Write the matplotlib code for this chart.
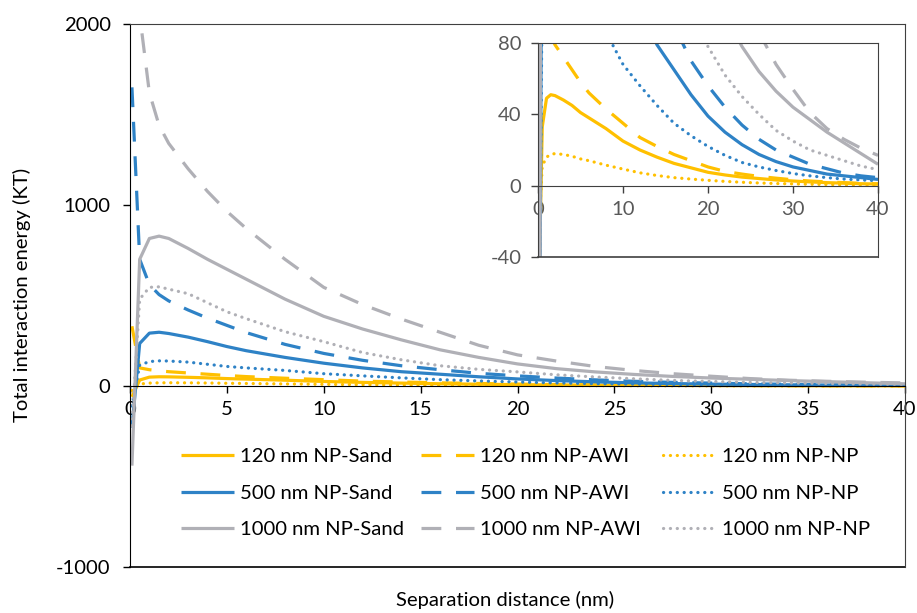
import matplotlib
matplotlib.use('Agg')
import matplotlib.pyplot as plt

plt.rcParams['font.family'] = ['Lato', 'DejaVu Sans']
plt.rcParams['axes.unicode_minus'] = False

# ---------------- data ----------------
x_nm = [0.1, 0.5, 1, 1.5, 2, 3, 4, 5, 6, 8, 10, 12, 14, 16, 18, 20,
        22, 24, 26, 28, 30, 32, 34, 36, 38, 40]

np120_sand = [-60, 33, 49, 51, 50.5, 48, 45, 41, 38, 32, 25, 20, 16, 12.5, 10, 7.5,
              6, 4.8, 4, 3.2, 2.6, 2.1, 1.7, 1.4, 1.1, 0.9]
np120_awi = [330, 100, 90, 84, 79, 72, 65, 58, 52, 43, 35, 27, 22, 17.5, 14, 10.5,
             8, 6.5, 5.2, 4.2, 3.3, 2.6, 2.1, 1.7, 1.3, 1.0]
np120_np = [-25, 11, 16, 17.5, 18, 17.5, 16.5, 15, 14, 11.5, 9.3, 7.2, 5.7, 4.5, 3.7, 3,
            2.4, 1.9, 1.5, 1.2, 1, 0.8, 0.65, 0.5, 0.4, 0.35]
np500_sand = [-230, 235, 292, 297, 290, 270, 245, 218, 195, 158, 126, 100, 79, 65, 51, 39,
              30, 23, 17.5, 13.5, 10.5, 8.5, 6.5, 5.5, 4.5, 3.5]
np500_awi = [1650, 700, 560, 505, 470, 420, 375, 335, 295, 230, 180, 142, 112, 90, 70, 56,
             44, 34, 26, 20, 16, 12, 9.5, 7, 5.5, 4.5]
np500_np = [-110, 115, 135, 139, 138, 132, 120, 108, 100, 86, 68, 56, 45, 35, 28, 22,
            17, 13, 10.5, 8.5, 6.8, 5.5, 4.5, 3.7, 3.2, 2.8]
np1000_sand = [-440, 700, 815, 828, 815, 760, 700, 645, 590, 480, 385, 315, 255, 200, 158, 122,
               96, 78, 64, 53, 44, 37, 30, 24, 18, 12]
np1000_awi = [3300, 2050, 1620, 1440, 1340, 1200, 1075, 965, 870, 700, 545, 450, 370, 297, 225, 172,
              138, 108, 86, 68, 54, 41, 32, 26, 21, 17]
np1000_np = [-220, 480, 545, 548, 535, 510, 460, 410, 372, 300, 245, 185, 145, 112, 92, 78,
             62, 50, 40, 31, 25, 20, 17, 14, 11, 9]

labels = ['120 nm NP-Sand', '120 nm NP-AWI', '120 nm NP-NP',
          '500 nm NP-Sand', '500 nm NP-AWI', '500 nm NP-NP',
          '1000 nm NP-Sand', '1000 nm NP-AWI', '1000 nm NP-NP']
series = [np120_sand, np120_awi, np120_np,
          np500_sand, np500_awi, np500_np,
          np1000_sand, np1000_awi, np1000_np]

main_yticks = [-1000, 0, 1000, 2000]
main_xticks = [0, 5, 10, 15, 20, 25, 30, 35, 40]
inset_yticks = [-40, 0, 40, 80]
inset_xticks = [0, 10, 20, 30, 40]

# ---------------- styles ----------------
YELLOW = '#FFC000'
BLUE = '#2E82C6'
GRAY = '#B0B0B6'
colors = [YELLOW] * 3 + [BLUE] * 3 + [GRAY] * 3
LS_SOLID = '-'
LS_DASH = (0, (6.2, 4.6))
LS_DOT = (0, (0.05, 2.1))
styles = [LS_SOLID, LS_DASH, LS_DOT] * 3
LW = 2.3
FS = 14.6
W, H = 917, 613


def draw(ax):
    lines = []
    for ys, c, ls, lab in zip(series, colors, styles, labels):
        ln, = ax.plot(x_nm, ys, color=c, linestyle=ls, lw=LW, label=lab,
                      dash_capstyle='round' if ls == LS_DOT else 'butt',
                      solid_capstyle='butt')
        lines.append(ln)
    return lines


fig = plt.figure(figsize=(W / 100, H / 100), dpi=100)

# ---------------- main axes ----------------
ax = fig.add_axes([130 / W, (H - 567) / H, 775 / W, 543 / H])
lines = draw(ax)
ax.set_xlim(0, 40)
ax.set_ylim(-1000, 2000)
ax.set_xticks(main_xticks)
ax.set_yticks(main_yticks)
ax.spines['bottom'].set_position(('data', 0))
ax.spines['bottom'].set_color('black')
ax.spines['left'].set_color('black')
for s in ['top', 'right']:
    ax.spines[s].set_color('#404040')
ax.plot([0, 1], [0, 0], transform=ax.transAxes, color='black', lw=1.2, clip_on=False)
ax.tick_params(axis='both', direction='out', length=5, width=1, labelsize=FS, colors='black')
ax.tick_params(axis='y', pad=9)
ax.tick_params(axis='x', pad=6)

# legend: three columns as separate legends
col_x = [181, 421, 663]
for ci in range(3):
    hs = [lines[ci + 3 * r] for r in range(3)]
    fig.legend(handles=hs, labels=[h.get_label() for h in hs],
               loc='upper left', bbox_to_anchor=(col_x[ci] / W, 1 - 448 / H),
               frameon=False, fontsize=FS, handlelength=2.6, handletextpad=0.3,
               borderpad=0, borderaxespad=0, labelspacing=0.95)

fig.text(505 / W, 1 - 600 / H, 'Separation distance (nm)', ha='center', va='center', fontsize=FS)
fig.text(22 / W, 1 - 295 / H, 'Total interaction energy (KT)', ha='center', va='center',
         rotation=90, fontsize=FS)

# ---------------- inset ----------------
ai = fig.add_axes([538 / W, (H - 257) / H, 340 / W, 214 / H])
draw(ai)
ai.set_xlim(0, 40)
ai.set_ylim(-40, 80)
ai.set_xticks(inset_xticks)
ai.set_yticks(inset_yticks)
ai.spines['bottom'].set_position(('data', 0))
for s in ai.spines.values():
    s.set_color('#404040')
ai.plot([0, 1], [0, 0], transform=ai.transAxes, color='#404040', lw=1.2, clip_on=False)
ai.tick_params(axis='both', direction='out', length=5, width=1, labelsize=FS,
               colors='#404040', labelcolor='#595959')
ai.tick_params(axis='y', pad=7)
ai.tick_params(axis='x', pad=6)

fig.savefig('out.png', dpi=100)
